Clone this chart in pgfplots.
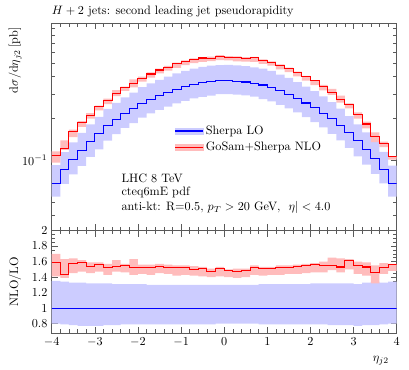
\documentclass[border=0pt]{standalone}
\usepackage{pgfplots}
\pgfplotsset{compat=1.18}
\usepackage{pgfplotstable}
\usepgfplotslibrary{fillbetween}

\definecolor{loband}{RGB}{204,204,255}
\definecolor{nloband}{RGB}{255,188,188}
\definecolor{frame}{RGB}{90,90,90}

% bins of 0.2, value at left edge, last row repeated at x=4 for const plot
\pgfplotstableread{
x     lo     lolo    lohi    nlo     nlolo   nlohi
-4.0  0.068  0.0544  0.0918  0.1078  0.0959  0.1156
-3.8  0.085  0.0672  0.1139  0.1216  0.1182  0.1386
-3.6  0.101  0.0788  0.1343  0.1596  0.1465  0.1656
-3.4  0.118  0.0909  0.1569  0.1870  0.1735  0.1912
-3.2  0.137  0.1055  0.1808  0.2110  0.1987  0.2178
-3.0  0.155  0.1194  0.2046  0.2426  0.2279  0.2465
-2.8  0.177  0.1381  0.2336  0.2690  0.2531  0.2779
-2.6  0.197  0.1537  0.2581  0.3034  0.2896  0.3191
-2.4  0.216  0.1706  0.2830  0.3359  0.3154  0.3391
-2.2  0.234  0.1849  0.3065  0.3569  0.3346  0.3814
-2.0  0.256  0.2022  0.3354  0.3891  0.3686  0.3994
-1.8  0.275  0.2173  0.3575  0.4180  0.3933  0.4290
-1.6  0.291  0.2299  0.3783  0.4467  0.4220  0.4569
-1.4  0.307  0.2425  0.3991  0.4666  0.4421  0.4789
-1.2  0.325  0.2568  0.4225  0.4940  0.4615  0.5038
-1.0  0.338  0.2670  0.4394  0.5138  0.4833  0.5239
-0.8  0.352  0.2781  0.4576  0.5280  0.4998  0.5421
-0.6  0.362  0.2860  0.4706  0.5448  0.5104  0.5539
-0.4  0.369  0.2915  0.4797  0.5424  0.5166  0.5572
-0.2  0.373  0.2984  0.4849  0.5614  0.5259  0.5707
0.0   0.374  0.2992  0.4862  0.5535  0.5236  0.5610
0.2   0.371  0.2968  0.4823  0.5472  0.5157  0.5602
0.4   0.366  0.2928  0.4758  0.5435  0.5124  0.5527
0.6   0.358  0.2864  0.4654  0.5460  0.5119  0.5549
0.8   0.348  0.2749  0.4559  0.5237  0.4942  0.5324
1.0   0.336  0.2654  0.4402  0.5074  0.4805  0.5141
1.2   0.316  0.2496  0.4140  0.4803  0.4519  0.4898
1.4   0.299  0.2362  0.3917  0.4560  0.4306  0.4635
1.6   0.279  0.2204  0.3655  0.4283  0.4018  0.4352
1.8   0.258  0.2038  0.3380  0.3986  0.3741  0.4051
2.0   0.238  0.1880  0.3142  0.3725  0.3475  0.3760
2.2   0.218  0.1722  0.2878  0.3390  0.3183  0.3488
2.4   0.198  0.1544  0.2614  0.3079  0.2950  0.3267
2.6   0.178  0.1388  0.2350  0.2723  0.2599  0.2919
2.8   0.157  0.1225  0.2072  0.2528  0.2355  0.2559
3.0   0.138  0.1063  0.1808  0.2146  0.1987  0.2208
3.2   0.119  0.0928  0.1583  0.1821  0.1690  0.1892
3.4   0.102  0.0796  0.1367  0.1489  0.1346  0.1581
3.6   0.086  0.0679  0.1144  0.1307  0.1238  0.1359
3.8   0.068  0.0544  0.0911  0.1061  0.1006  0.1068
4.0   0.068  0.0544  0.0911  0.1061  0.1006  0.1068
}\spectab

\pgfplotstableread{
x     r      rlo   rhi   blo   bhi
-4.0  1.585  1.41  1.70  0.80  1.35
-3.8  1.43   1.39  1.63  0.79  1.34
-3.6  1.58   1.45  1.64  0.78  1.33
-3.4  1.585  1.47  1.62  0.77  1.33
-3.2  1.54   1.45  1.59  0.77  1.32
-3.0  1.565  1.47  1.59  0.77  1.32
-2.8  1.52   1.43  1.57  0.78  1.32
-2.6  1.54   1.47  1.62  0.78  1.31
-2.4  1.555  1.46  1.57  0.79  1.31
-2.2  1.525  1.43  1.63  0.79  1.31
-2.0  1.52   1.44  1.56  0.79  1.31
-1.8  1.52   1.43  1.56  0.79  1.30
-1.6  1.535  1.45  1.57  0.79  1.30
-1.4  1.52   1.44  1.56  0.79  1.30
-1.2  1.52   1.42  1.55  0.79  1.30
-1.0  1.52   1.43  1.55  0.79  1.30
-0.8  1.50   1.42  1.54  0.79  1.30
-0.6  1.505  1.41  1.53  0.79  1.30
-0.4  1.47   1.40  1.51  0.79  1.30
-0.2  1.505  1.41  1.53  0.80  1.30
0.0   1.48   1.40  1.50  0.80  1.30
0.2   1.475  1.39  1.51  0.80  1.30
0.4   1.485  1.40  1.51  0.80  1.30
0.6   1.525  1.43  1.55  0.80  1.30
0.8   1.505  1.42  1.53  0.79  1.31
1.0   1.51   1.43  1.53  0.79  1.31
1.2   1.52   1.43  1.55  0.79  1.31
1.4   1.525  1.44  1.55  0.79  1.31
1.6   1.535  1.44  1.56  0.79  1.31
1.8   1.545  1.45  1.57  0.79  1.31
2.0   1.565  1.46  1.58  0.79  1.32
2.2   1.555  1.46  1.60  0.79  1.32
2.4   1.555  1.49  1.65  0.78  1.32
2.6   1.53   1.46  1.64  0.78  1.32
2.8   1.61   1.50  1.63  0.78  1.32
3.0   1.555  1.44  1.60  0.77  1.31
3.2   1.53   1.42  1.59  0.78  1.33
3.4   1.46   1.32  1.55  0.78  1.34
3.6   1.52   1.44  1.58  0.79  1.33
3.8   1.56   1.48  1.57  0.80  1.34
4.0   1.56   1.48  1.57  0.80  1.34
}\ratiotab

\pgfplotsset{
  histframe/.style={
    width=283pt, scale only axis,
    xmin=-4, xmax=4,
    xtick={-4,...,4}, minor x tick num=4,
    major tick length=5pt, minor tick length=3pt,
    tick align=inside,
    axis line style={frame},
    every tick/.style={frame},
  }
}

\begin{document}
\begin{tikzpicture}
\begin{axis}[
  histframe, name=upper,
  height=170pt,
  ymode=log, ymin=0.031, ymax=0.97,
  xticklabels={},
  ytick={0.1},
  minor ytick={0.04,0.05,0.06,0.07,0.08,0.09,0.2,0.3,0.4,0.5,0.6,0.7,0.8,0.9},
  ylabel={d$\sigma/$d$\eta_{j2}\,$[pb]},
  ylabel style={at={(axis description cs:-0.106,1)}, anchor=east},
  title={$H+2$ jets: second leading jet pseudorapidity},
  title style={at={(axis description cs:0,1)}, anchor=south west, inner sep=0pt, yshift=-1pt},
  legend style={at={(axis description cs:0.345,0.53)}, anchor=north west,
    draw=none, fill=none, row sep=1pt},
  legend cell align=left,
]
\addlegendimage{legend image code/.code={
  \fill[loband] (0cm,-2.5pt) rectangle (0.8cm,2.5pt);
  \draw[blue, line width=0.9pt] (0cm,0pt) -- (0.8cm,0pt);}}
\addlegendimage{legend image code/.code={
  \fill[nloband] (0cm,-2.5pt) rectangle (0.8cm,2.5pt);
  \draw[red, line width=0.9pt] (0cm,0pt) -- (0.8cm,0pt);}}
\legend{Sherpa LO, GoSam+Sherpa NLO}

\addplot[name path=lohi, draw=none, const plot, forget plot] table[x=x, y=lohi] {\spectab};
\addplot[name path=lolo, draw=none, const plot, forget plot] table[x=x, y=lolo] {\spectab};
\addplot[loband, forget plot] fill between[of=lohi and lolo];
\addplot[name path=nlohi, draw=none, const plot, forget plot] table[x=x, y=nlohi] {\spectab};
\addplot[name path=nlolo, draw=none, const plot, forget plot] table[x=x, y=nlolo] {\spectab};
\addplot[nloband, forget plot] fill between[of=nlohi and nlolo];

\addplot[blue, line width=0.9pt, const plot, forget plot] table[x=x, y=lo] {\spectab};
\addplot[red, line width=0.9pt, const plot, forget plot] table[x=x, y=nlo] {\spectab};

\node[anchor=west] at (axis description cs:0.19,0.254) {LHC 8 TeV};
\node[anchor=west] at (axis description cs:0.19,0.182) {cteq6mE pdf};
\node[anchor=west] at (axis description cs:0.19,0.110) {anti-kt: R=0.5, $p_T > 20$ GeV, \ $\eta| < 4.0$};
\end{axis}

\begin{axis}[
  histframe, name=lower,
  at={(upper.south west)}, anchor=north west,
  height=84pt,
  ymin=0.68, ymax=2,
  ytick={0.8,1,1.2,1.4,1.6,1.8,2},
  minor y tick num=3,
  ylabel={NLO/LO},
  ylabel style={at={(axis description cs:-0.106,0.5)}, anchor=center},
  xlabel={$\eta_{j2}$},
  xlabel style={at={(axis description cs:0.99,-0.27)}, anchor=east},
]
\addplot[name path=bhi, draw=none, const plot] table[x=x, y=bhi] {\ratiotab};
\addplot[name path=blo, draw=none, const plot] table[x=x, y=blo] {\ratiotab};
\addplot[loband] fill between[of=bhi and blo];
\addplot[name path=rhi, draw=none, const plot] table[x=x, y=rhi] {\ratiotab};
\addplot[name path=rlo, draw=none, const plot] table[x=x, y=rlo] {\ratiotab};
\addplot[nloband] fill between[of=rhi and rlo];

\addplot[blue, line width=0.9pt] coordinates {(-4,1) (4,1)};
\addplot[red, line width=0.9pt, const plot] table[x=x, y=r] {\ratiotab};
\end{axis}

% page margins as in the reference
\path (upper.north west) ++(-42.4pt,19.1pt);
\path (lower.south east) ++(10.1pt,-30.3pt);
\end{tikzpicture}
\end{document}
